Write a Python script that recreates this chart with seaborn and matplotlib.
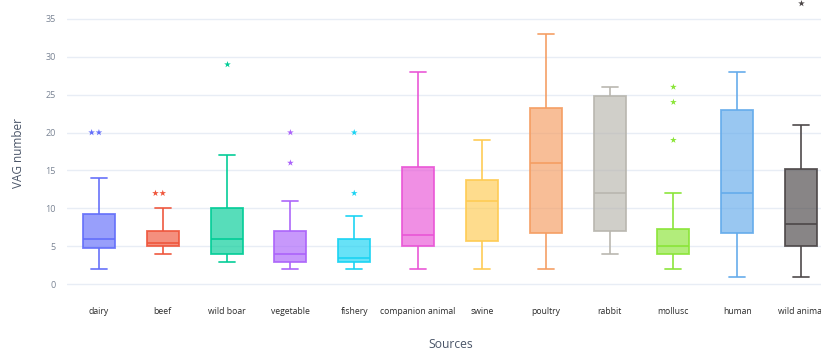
import numpy as np
import pandas as pd
import matplotlib
matplotlib.use("Agg")
import matplotlib.pyplot as plt
import seaborn as sns
from matplotlib.colors import to_rgba

# Five-number summary of VAG counts per source
sources = ["dairy", "beef", "wild boar", "vegetable", "fishery", "companion animal",
           "swine", "poultry", "rabbit", "mollusc", "human", "wild animal"]
whisker_low = [2, 4, 3, 2, 2, 2, 2, 2, 4, 2, 1, 1]
q1 = [4.75, 5, 4, 3, 3, 5, 5.75, 6.75, 7, 4, 6.75, 5]
median = [6, 5.5, 6, 4, 3.5, 6.5, 11, 16, 12, 5, 12, 8]
q3 = [9.25, 7, 10, 7, 6, 15.5, 13.75, 23.25, 24.75, 7.25, 23, 15.25]
whisker_high = [14, 10, 17, 11, 9, 28, 19, 33, 26, 12, 28, 21]

# Outlying isolates
outlier_source = ["dairy", "dairy", "beef", "beef", "wild boar", "vegetable", "vegetable",
                  "fishery", "fishery", "mollusc", "mollusc", "mollusc", "wild animal"]
outlier_value = [20, 20, 12, 12, 29, 20, 16, 20, 12, 26, 24, 19, 37]

colors = ["#636EFA", "#EF553B", "#00CC96", "#AB63FA", "#19D3F3", "#E955D6",
          "#FECB52", "#F59D62", "#B8B6AE", "#8AE537", "#64ABEB", "#4B4647"]
palette = dict(zip(sources, colors))

box_df = pd.DataFrame({
    "Sources": np.repeat(sources, 5),
    "VAG number": np.column_stack([whisker_low, q1, median, q3, whisker_high]).ravel(),
})
out_df = pd.DataFrame({"Sources": outlier_source, "VAG number": outlier_value})

sns.set_style("white")
plt.rcParams["font.family"] = ["Open Sans", "DejaVu Sans"]

fig = plt.figure(figsize=(8.21, 3.51), dpi=100)
ax = fig.add_axes([67 / 821, 51 / 351, 766 / 821, 300 / 351])

sns.boxplot(data=box_df, x="Sources", y="VAG number", hue="Sources", order=sources,
            hue_order=sources, palette=palette, saturation=1, fill=True, width=0.5,
            whis=(0, 100), linewidth=1.3, showfliers=False, legend=False, ax=ax)

# each box: translucent face, solid outline in the same colour
for p in ax.patches:
    fc = p.get_facecolor()
    p.set_edgecolor((fc[0], fc[1], fc[2], 0.9))
    p.set_facecolor((fc[0], fc[1], fc[2], 0.66))

# whiskers, caps and medians take the colour of their category
for ln in ax.lines:
    xs = np.asarray(ln.get_xdata(), dtype=float)
    if xs.size == 0:
        continue
    idx = int(round(xs.mean()))
    if 0 <= idx < len(sources):
        ln.set_color(to_rgba(colors[idx], 0.9))

sns.swarmplot(data=out_df, x="Sources", y="VAG number", hue="Sources", order=sources,
              hue_order=sources, palette=palette, marker="*", size=5, linewidth=0,
              legend=False, ax=ax)

ax.set_xlim(-0.5, len(sources) - 0.5)
ax.set_ylim(-2.07, 37.46)
ax.set_yticks(range(0, 36, 5))
ax.yaxis.grid(True, color="#E8EDF5", linewidth=1)
ax.set_axisbelow(True)
for s in ax.spines.values():
    s.set_visible(False)
ax.tick_params(axis="both", length=0)
ax.tick_params(axis="y", labelsize=6.5, labelcolor="#7A8494", pad=8)
ax.tick_params(axis="x", labelsize=6.2, labelcolor="#2B2B2B", pad=5)
ax.set_xlabel("")
ax.set_ylabel("")

fig.text(19 / 821, 1 - 153 / 351, "VAG number", rotation=90, ha="center", va="center",
         fontsize=8.5, color="#4A5568")
fig.text(451 / 821, 1 - 345 / 351, "Sources", ha="center", va="center",
         fontsize=8.7, color="#4A5568")

fig.savefig("out.png", dpi=100)
